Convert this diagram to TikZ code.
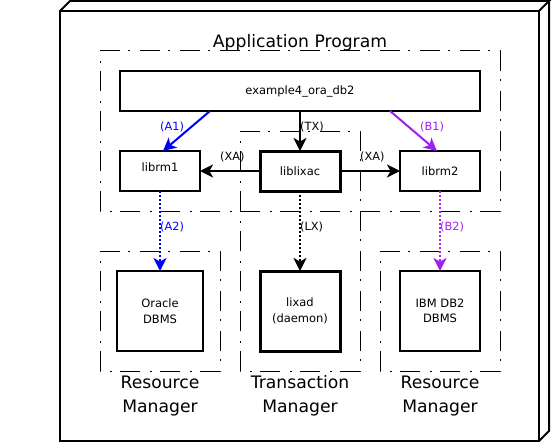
\documentclass[tikz,border=0pt]{standalone}
\usepackage{fontspec}
\setmainfont{DejaVu Sans}
\usetikzlibrary{arrows.meta}
\definecolor{ablue}{RGB}{0,0,255}
\definecolor{bpurple}{RGB}{160,32,240}
\begin{document}
\begin{tikzpicture}[x=1pt,y=-1pt,
  box/.style={draw, line width=2pt, minimum width=80pt, minimum height=40pt, inner sep=0pt, outer sep=0pt, font=\fontsize{11.5}{15.5}\selectfont, align=center},
  thickbox/.style={box, line width=3pt},
  frame/.style={line width=1pt, dash pattern=on 20pt off 8pt on 2pt off 10pt},
  conn/.style={line width=2pt, -{Stealth[length=13pt,width=13pt,inset=3.5pt]}},
  dotconn/.style={conn, dash pattern=on 2pt off 2pt},
  lbl/.style={font=\fontsize{11.3}{13}\selectfont, anchor=west, inner sep=0pt},
  big/.style={font=\fontsize{17.2}{24}\selectfont, align=center, inner sep=0pt}
]
\useasboundingbox (0,0) rectangle (552,444);
% outer 3D box
\draw[line width=2pt] (60,11) rectangle (539,441);
\draw[line width=2pt] (60,11) -- (70,1) -- (549,1) -- (539,11);
\draw[line width=2pt] (549,1) -- (549,431) -- (539,441);
% frames
\draw[frame] (100,51) -- (500,51) -- (500,211) -- (100,211) -- cycle;
\draw[frame] (240,131) -- (360,131) -- (360,371) -- (240,371) -- cycle;
\draw[frame] (100,251) -- (220,251) -- (220,371) -- (100,371) -- cycle;
\draw[frame] (380,251) -- (500,251) -- (500,371) -- (380,371) -- cycle;
% nodes
\node[box, minimum width=360pt] (app) at (300,91) {example4\_ora\_db2};
\node[box, text depth=8pt] (librm1) at (160,171) {librm1};
\node[thickbox] (liblixac) at (300,171) {liblixac};
\node[box] (librm2) at (440,171) {librm2};
\node[box, minimum width=86pt, minimum height=80pt] (oracle) at (160,311) {Oracle\\DBMS};
\node[thickbox, minimum height=80pt] (lixad) at (300,311) {lixad\\(daemon)};
\node[box, minimum height=80pt] (ibm) at (440,311) {IBM DB2\\DBMS};
% connectors
\draw[conn, ablue] ([xshift=-90pt]app.south) -- ([xshift=3pt]librm1.north);
\draw[conn, bpurple] ([xshift=90pt]app.south) -- ([xshift=-3pt]librm2.north);
\draw[conn] (app.south) -- (liblixac.north);
\draw[conn] (liblixac.west) -- (librm1.east);
\draw[conn] (liblixac.east) -- (librm2.west);
\draw[dotconn, ablue] (librm1.south) -- (oracle.north);
\draw[dotconn] (liblixac.south) -- (lixad.north);
\draw[dotconn, bpurple] (librm2.south) -- (ibm.north);
% labels
\node[lbl, text=ablue] (la1) at (160,127) {(A1)};
\node[lbl, text=bpurple] (lb1) at (420,127) {(B1)};
\node[lbl] (ltx) at (300,127) {(TX)};
\node[lbl] (lxa1) at (220,157) {(XA)};
\node[lbl] (lxa2) at (360,157) {(XA)};
\node[lbl, text=ablue] (la2) at (160,227) {(A2)};
\node[lbl] (llx) at (300,227) {(LX)};
\node[lbl, text=bpurple] (lb2) at (440,227) {(B2)};
% big texts
\node[big, anchor=base] (title) at (300,48) {Application Program};
\node[big] (rm1) at (160,396) {Resource\\Manager};
\node[big] (tm) at (300,396) {Transaction\\Manager};
\node[big] (rm2) at (440,396) {Resource\\Manager};
\end{tikzpicture}
\end{document}
